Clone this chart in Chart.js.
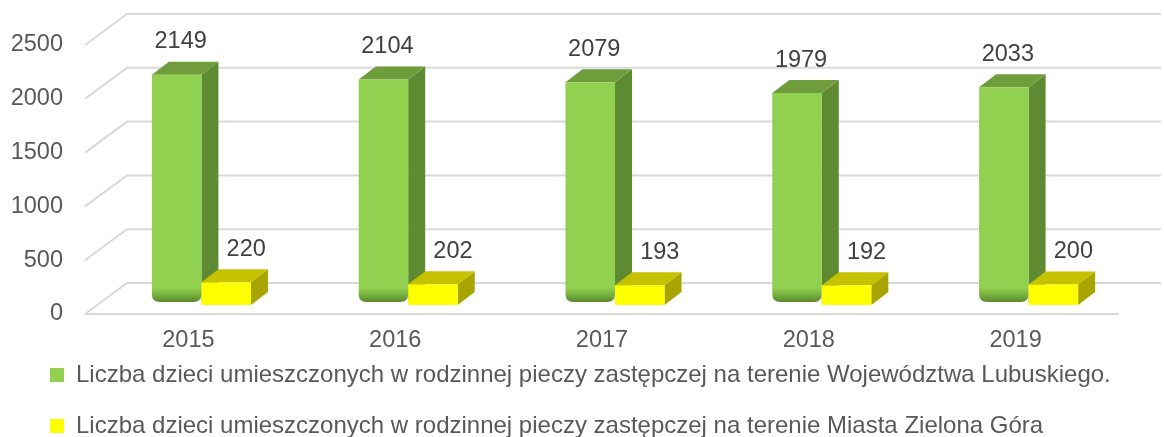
<!DOCTYPE html>
<html>
<head>
<meta charset="utf-8">
<script src="https://cdn.jsdelivr.net/npm/chart.js@4"></script>
<style>
  body { margin: 0; background: #fff; }
  #wrap { width: 1164px; height: 437px; }
</style>
</head>
<body>
<div id="wrap"><canvas id="foster"></canvas></div>
<script>
const years = ["2015", "2016", "2017", "2018", "2019"];
const lubuskie = [2149, 2104, 2079, 1979, 2033];
const zielonaGora = [220, 202, 193, 192, 200];
const yTicks = [0, 500, 1000, 1500, 2000, 2500];

const labelLubuskie = "Liczba dzieci umieszczonych w rodzinnej pieczy zastępczej na terenie Województwa Lubuskiego.";
const labelZG = "Liczba dzieci umieszczonych w rodzinnej pieczy zastępczej na terenie Miasta Zielona Góra";

// 3d look
const WALL_DX = 42, WALL_DY = -31;   // back wall offset
const BAR_DX = 17, BAR_DY = -13;     // bar depth
const SHIFT_X = 13, SHIFT_Y = -8;    // bars sit a bit behind the front plane

Chart.defaults.font.family = "'Liberation Sans', Arial, sans-serif";
Chart.defaults.color = "#595959";

function poly(ctx, pts, color) {
  ctx.beginPath();
  ctx.moveTo(pts[0][0], pts[0][1]);
  for (let k = 1; k < pts.length; k++) ctx.lineTo(pts[k][0], pts[k][1]);
  ctx.closePath();
  ctx.fillStyle = color;
  ctx.fill();
}

const threeD = {
  id: "threeD",
  afterLayout(chart) {
    // legend starts a little right of the canvas edge
    chart.legend.left += 23;
    chart.legend.right += 23;
  },
  beforeDatasetsDraw(chart) {
    const { ctx, chartArea: a, scales: { y } } = chart;
    ctx.save();

    // walls + grid
    ctx.strokeStyle = "#d9d9d9";
    ctx.lineWidth = 2;
    yTicks.forEach((v) => {
      const py = y.getPixelForValue(v);
      ctx.beginPath();
      ctx.moveTo(a.left, py);
      ctx.lineTo(a.left + WALL_DX, py + WALL_DY);
      ctx.lineTo(a.right + WALL_DX, py + WALL_DY);
      ctx.stroke();
    });
    const py0 = y.getPixelForValue(0);
    ctx.beginPath();
    ctx.moveTo(a.left, py0);
    ctx.lineTo(a.right, py0);
    ctx.stroke();

    const m0 = chart.getDatasetMeta(0);
    const m1 = chart.getDatasetMeta(1);

    years.forEach((yr, i) => {
      // green bar
      const g = m0.data[i];
      let x0 = g.x - g.width / 2 + SHIFT_X, x1 = x0 + g.width;
      let top = g.y + SHIFT_Y, bot = g.base + SHIFT_Y - 4;
      poly(ctx, [[x1, top], [x1 + BAR_DX, top + BAR_DY], [x1 + BAR_DX, bot + BAR_DY], [x1, bot]], "#5e8b32");
      poly(ctx, [[x0, top], [x0 + BAR_DX, top + BAR_DY], [x1 + BAR_DX, top + BAR_DY], [x1, top]], "#6f9d3b");
      const r = 8;
      const grad = ctx.createLinearGradient(0, top, 0, bot);
      grad.addColorStop(0, "#92d050");
      grad.addColorStop(Math.max(0, (bot - top - 14) / (bot - top)), "#92d050");
      grad.addColorStop(1, "#5a8a2d");
      ctx.beginPath();
      ctx.moveTo(x0, top);
      ctx.lineTo(x1, top);
      ctx.lineTo(x1, bot - r);
      ctx.quadraticCurveTo(x1, bot, x1 - r, bot);
      ctx.lineTo(x0 + r, bot);
      ctx.quadraticCurveTo(x0, bot, x0, bot - r);
      ctx.closePath();
      ctx.fillStyle = grad;
      ctx.fill();

      // yellow bar
      const b = m1.data[i];
      x0 = b.x - b.width / 2 + SHIFT_X; x1 = x0 + b.width;
      top = b.y + SHIFT_Y; bot = b.base + SHIFT_Y - 1;
      poly(ctx, [[x1, top], [x1 + BAR_DX, top + BAR_DY], [x1 + BAR_DX, bot + BAR_DY], [x1, bot]], "#a9a500");
      poly(ctx, [[x0, top], [x0 + BAR_DX, top + BAR_DY], [x1 + BAR_DX, top + BAR_DY], [x1, top]], "#c6c200");
      ctx.fillStyle = "#ffff00";
      ctx.fillRect(x0, top, x1 - x0, bot - top);
    });

    // value labels
    ctx.fillStyle = "#404040";
    ctx.font = "23.5px 'Liberation Sans', Arial, sans-serif";
    ctx.textAlign = "center";
    ctx.textBaseline = "middle";
    years.forEach((yr, i) => {
      const g = m0.data[i];
      ctx.fillText(String(lubuskie[i]), g.x + SHIFT_X + 4, g.y + SHIFT_Y - 33);
      const b = m1.data[i];
      ctx.fillText(String(zielonaGora[i]), b.x + SHIFT_X + 20, b.y + SHIFT_Y - 33);
    });

    ctx.restore();
    return false;
  },
};

new Chart(document.getElementById("foster"), {
  type: "bar",
  data: {
    labels: years,
    datasets: [
      {
        label: labelLubuskie,
        data: lubuskie,
        backgroundColor: "#92d050",
        borderWidth: 0,
        categoryPercentage: 0.479,
        barPercentage: 1,
      },
      {
        label: labelZG,
        data: zielonaGora,
        backgroundColor: "#ffff00",
        borderWidth: 0,
        categoryPercentage: 0.479,
        barPercentage: 1,
      },
    ],
  },
  plugins: [threeD],
  options: {
    responsive: true,
    maintainAspectRatio: false,
    animation: false,
    layout: { padding: { left: 0, right: 45, top: 45, bottom: -11 } },
    scales: {
      x: {
        offset: true,
        grid: { display: false, drawTicks: false },
        border: { display: false },
        ticks: { mirror: true, padding: -41, color: "#595959", font: { size: 23.5 } },
        afterFit: (s) => { s.height = 22; },
      },
      y: {
        min: 0,
        max: 2500,
        grid: { display: false, drawTicks: false },
        border: { display: false },
        ticks: {
          stepSize: 500,
          padding: 22,
          color: "#595959",
          font: { size: 23.5 },
          callback: (v) => String(v),
        },
        afterFit: (s) => { s.width = 85; },
      },
    },
    plugins: {
      tooltip: { enabled: false },
      legend: {
        position: "bottom",
        align: "start",
        labels: {
          boxWidth: 14,
          boxHeight: 14,
          padding: 27,
          color: "#595959",
          font: { size: 24 },
        },
      },
    },
  },
});
</script>
</body>
</html>
